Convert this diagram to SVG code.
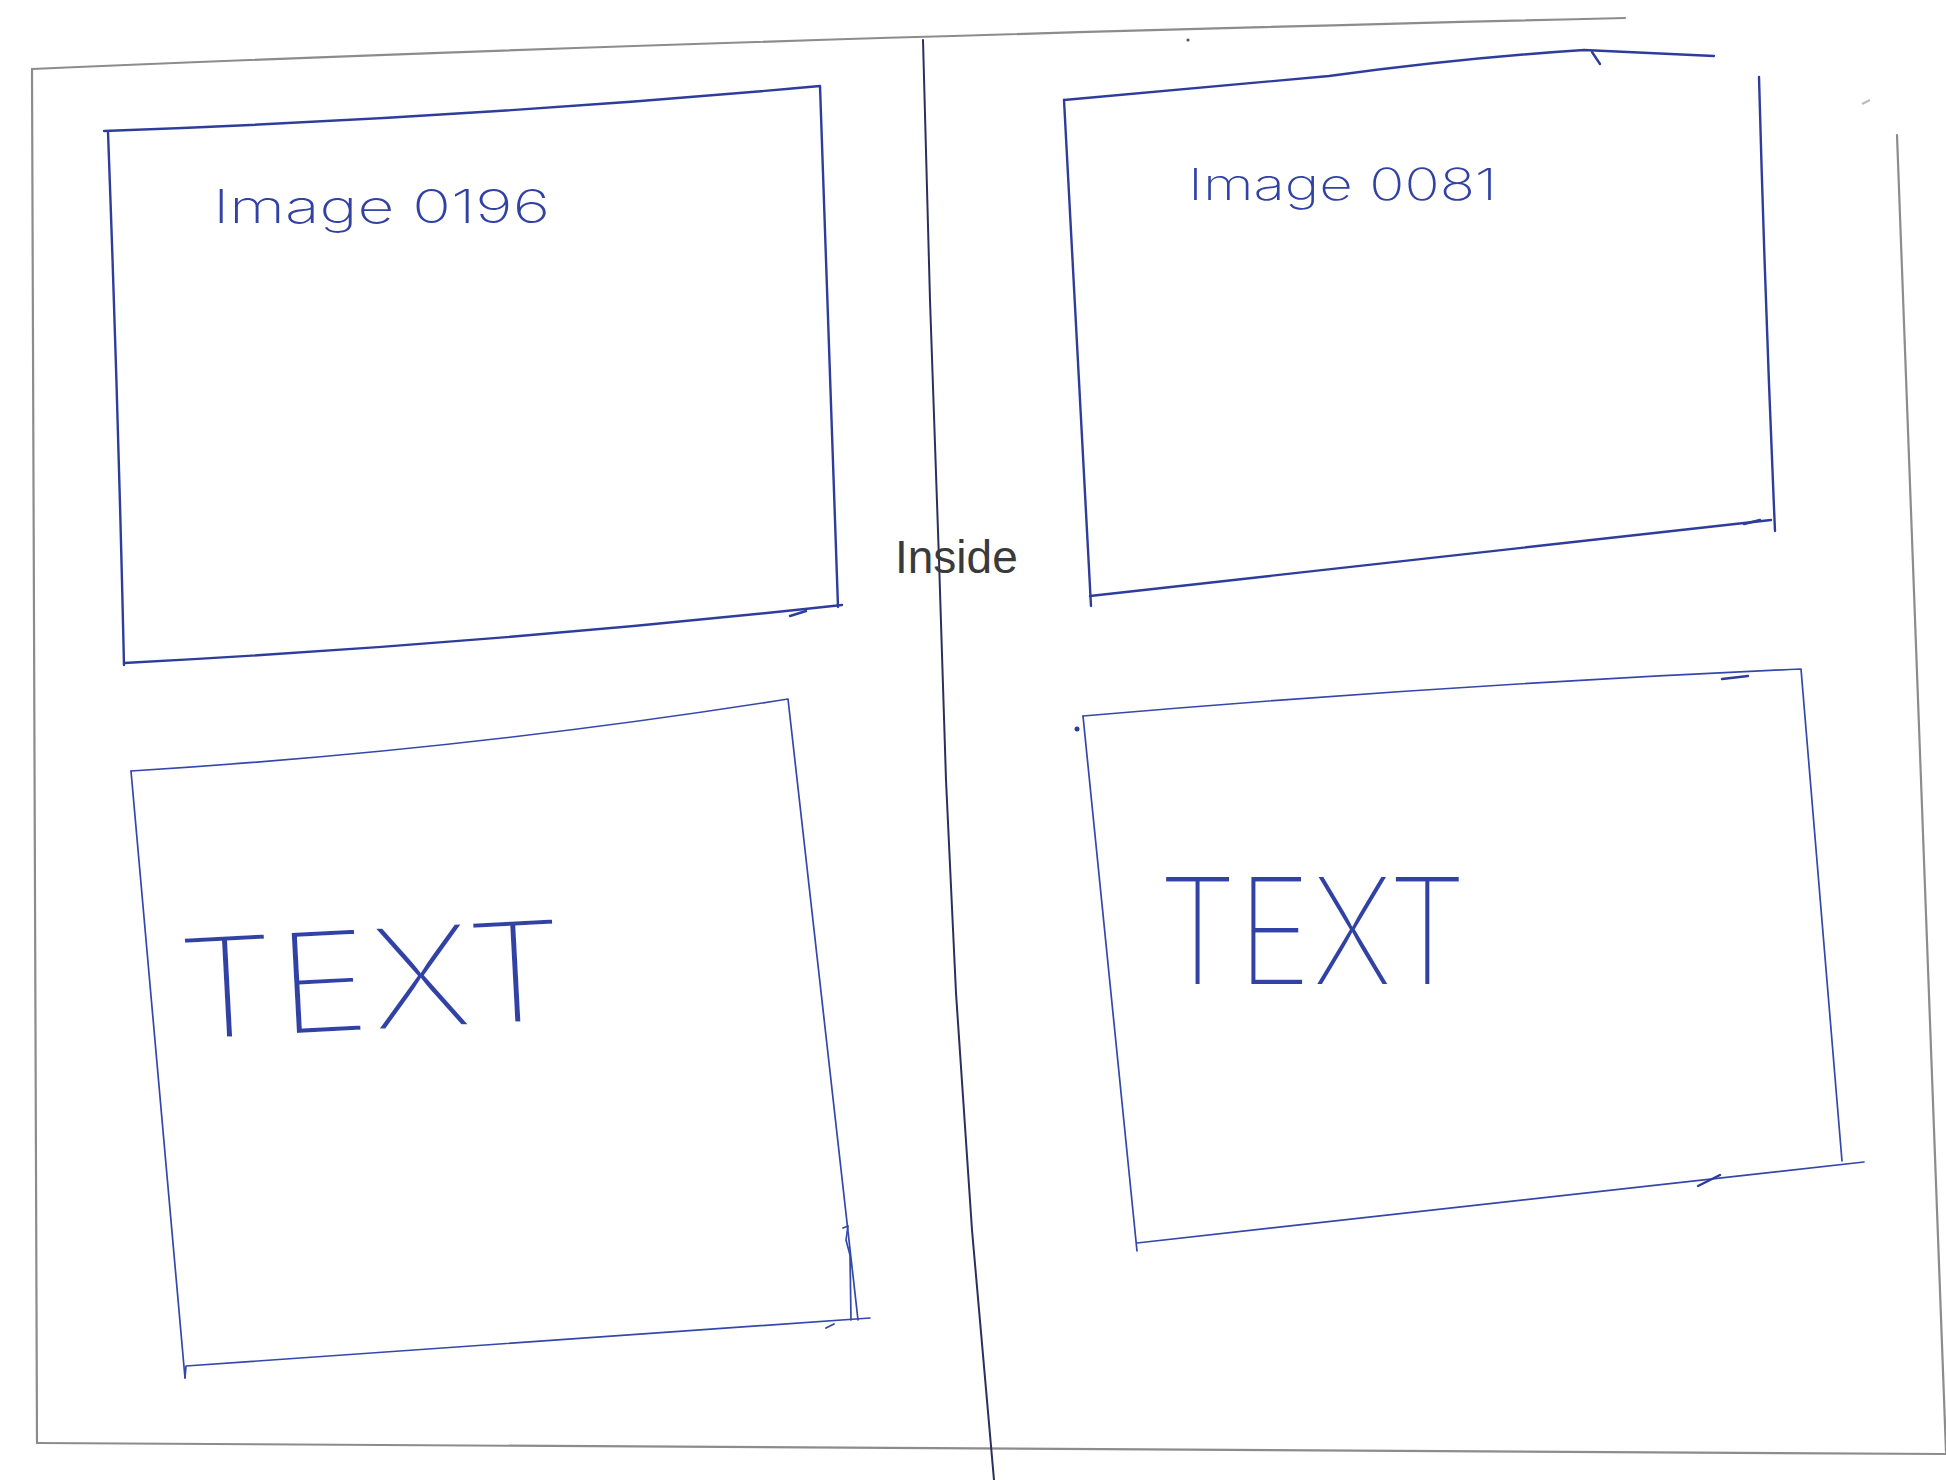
<svg xmlns="http://www.w3.org/2000/svg" width="1946" height="1480" viewBox="0 0 1946 1480">
<style>
.page{fill:none;stroke:#8c8c8c;stroke-width:2.2;stroke-linecap:round}
.divider{fill:none;stroke:#2c2f5c;stroke-width:2;stroke-linecap:round;stroke-linejoin:round}
.pen{fill:none;stroke:#2e3d9c;stroke-width:2.4;stroke-linecap:round;stroke-linejoin:round}
.thin{fill:none;stroke:#3447ab;stroke-width:1.7;stroke-linecap:round;stroke-linejoin:round}
.mark{fill:#2e3d9c}
.hand{font-family:Inter,"Open Sans","Noto Sans",sans-serif;font-weight:200;fill:#3242a4}
.big{stroke:#ffffff;stroke-width:2;paint-order:fill stroke}
.label{font-family:"Liberation Sans",Arial,sans-serif;font-size:46px;fill:#3a3a3a}
</style>
<rect x="0" y="0" width="1946" height="1480" fill="#ffffff"/>
<g id="page">
  <path class="page" d="M32,69 Q700,40 1625,18"/>
  <path class="page" d="M32,69 L37,1443"/>
  <path class="page" d="M37,1443 Q1000,1450 1946,1454"/>
  <path class="page" d="M1897,135 L1946,1452"/>
  <circle cx="1188" cy="40" r="1.6" fill="#555"/>
  <path d="M1862,104 L1870,100" stroke="#bbb" stroke-width="2"/>
</g>
<g id="connectors">
  <path id="divider" class="divider" d="M923,40 L930,300 L939,560 L946,780 L956,993 L972,1230 L994,1480"/>
</g>
<g id="label-inside">
  <text class="label" x="895" y="573">Inside</text>
</g>
<g id="box-image-0196">
  <path class="pen" d="M104,131 Q466,118 820,86 Q829,350 838,607"/>
  <path class="pen" d="M108,132 Q118,400 124,665"/>
  <path class="pen" d="M124,663 Q485,644 842,605"/>
  <path class="pen" d="M790,616 L806,611"/>
  <text class="hand" x="213" y="223" font-size="46" textLength="337" lengthAdjust="spacingAndGlyphs">Image 0196</text>
</g>
<g id="box-image-0081">
  <path class="pen" d="M1064,100 Q1200,88 1329,76 Q1460,58 1584,50 L1714,56"/>
  <path class="pen" d="M1592,52 L1600,64"/>
  <path class="pen" d="M1064,100 Q1076,320 1091,606"/>
  <path class="pen" d="M1759,77 Q1765,300 1775,531"/>
  <path class="pen" d="M1090,596 L1771,520"/>
  <path class="pen" d="M1744,524 L1760,520"/>
  <text class="hand" x="1188" y="200" font-size="44" textLength="309" lengthAdjust="spacingAndGlyphs">Image 0081</text>
</g>
<g id="box-text-left">
  <path class="thin" d="M131,771 Q459,751 788,699 L858,1320"/>
  <path class="thin" d="M131,771 L185,1378"/>
  <path class="thin" d="M185,1378 L186,1366 Q500,1345 870,1318"/>
  <path class="thin" d="M843,1228 L848,1226 L846,1240 L850,1255 L851,1320 M826,1328 L834,1324"/>
  <text class="hand big" x="180" y="1040" font-size="140" textLength="388" lengthAdjust="spacingAndGlyphs" transform="rotate(-3 180 1040)">TEXT</text>
</g>
<g id="box-text-right">
  <path class="thin" d="M1083,716 Q1443,685 1801,669 L1842,1161"/>
  <path class="thin" d="M1083,716 L1137,1251"/>
  <path class="thin" d="M1137,1243 L1864,1162"/>
  <path class="pen" d="M1722,679 L1748,676"/>
  <path class="pen" d="M1698,1186 L1720,1175"/>
  <circle class="mark" cx="1077" cy="729" r="2.5"/>
  <text class="hand big" x="1158" y="985" font-size="150" textLength="309" lengthAdjust="spacingAndGlyphs">TEXT</text>
</g>
</svg>
